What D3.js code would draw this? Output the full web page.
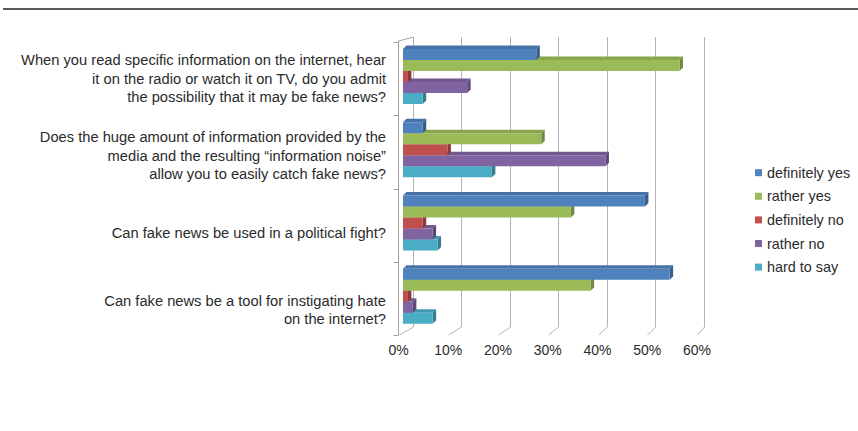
<!DOCTYPE html>
<html>
<head>
<meta charset="utf-8">
<script src="https://cdn.jsdelivr.net/npm/d3@7"></script>
<style>
  html, body { margin: 0; padding: 0; background: #fff; }
  svg { display: block; }
  text { font-family: "Liberation Sans", Arial, Helvetica, sans-serif; fill: #2b2b2b; }
</style>
</head>
<body>
<svg id="chart" width="858" height="431"></svg>
<script>
// Survey questions, each split into the lines shown beside the bars
const questionLines = [
  ["When you read specific information on the internet, hear",
   "it on the radio or watch it on TV, do you admit",
   "the possibility that it may be fake news?"],
  ["Does the huge amount of information provided by the",
   "media and the resulting \u201cinformation noise\u201d",
   "allow you to easily catch fake news?"],
  ["Can fake news be used in a political fight?"],
  ["Can fake news be a tool for instigating hate",
   "on the internet?"]
];
const categories = questionLines.map(l => l.join(" "));

// Answer shares (%) per question, in question order
const seriesNames = ["definitely yes", "rather yes", "definitely no", "rather no", "hard to say"];
const definitelyYes = [27, 4, 49, 54];
const ratherYes     = [56, 28, 34, 38];
const definitelyNo  = [1, 9, 4, 1];
const ratherNo      = [13, 41, 6, 2];
const hardToSay     = [4, 18, 7, 6];
const seriesValues = [definitelyYes, ratherYes, definitelyNo, ratherNo, hardToSay];
const seriesColors = ["#4F81BD", "#9BBB59", "#C0504D", "#8064A2", "#4BACC6"];

const tickValues = [0, 10, 20, 30, 40, 50, 60];
const tickLabels = ["0%", "10%", "20%", "30%", "40%", "50%", "60%"];

const svg = d3.select("#chart");

// rule across the top of the figure
svg.append("line")
  .attr("x1", 3).attr("x2", 858).attr("y1", 9).attr("y2", 9)
  .attr("stroke", "#5a5a5a").attr("stroke-width", 2);

// 3D box: front plane and back plane of the value axis
const floorFront = 335, floorBack = 327, wallTop = 37, leftTop = 41;
const xFront = d3.scaleLinear().domain([0, 60]).range([398.5, 697]);
const xBack  = d3.scaleLinear().domain([0, 60]).range([412.5, 704]);
// bars sit a little behind the front plane
const depthT = 0.32;
const xBar = d3.scaleLinear().domain([0, 60])
  .range([xFront(0) + (xBack(0) - xFront(0)) * depthT, xFront(60) + (xBack(60) - xFront(60)) * depthT]);

const yBand = d3.scaleBand().domain(categories).range([42, floorFront]).padding(0);
const ySeries = d3.scaleBand().domain(seriesNames).range([7, 62]).padding(0);

const grid = svg.append("g").attr("stroke", "#b4b4b4").attr("stroke-width", 1).attr("fill", "none");
tickValues.forEach(v => {
  const xb = Math.round(xBack(v)) + 0.5, xf = Math.round(xFront(v)) + 0.5;
  grid.append("path").attr("d", `M${xb},${wallTop}V${floorBack}L${xf},${floorFront}`);
});

// left wall / category axis
const axisX = Math.round(xFront(0)) - 0.5;
const axisG = svg.append("g").attr("stroke", "#a0a0a0").attr("fill", "none");
axisG.append("path").attr("d", `M${axisX},${floorFront}V${leftTop}L${Math.round(xBack(0)) + 0.5},${wallTop}`);
const edges = categories.map(c => yBand(c)).concat([yBand.range()[1]]);
edges.forEach(y => {
  axisG.append("line").attr("x1", axisX - 5).attr("x2", axisX)
    .attr("y1", Math.round(y) + 0.5).attr("y2", Math.round(y) + 0.5);
});

// value axis labels
svg.append("g").selectAll("text").data(tickValues).join("text")
  .attr("x", d => xFront(d)).attr("y", 355)
  .attr("text-anchor", "middle").attr("font-size", 14)
  .text((d, i) => tickLabels[i]);

// bars with a shallow 3D extrusion
const ddx = 3.5, ddy = -3.5;
const barsG = svg.append("g");
categories.forEach((cat, ci) => {
  // paint lowest series first so upper bars cover the top faces beneath them
  for (let si = seriesNames.length - 1; si >= 0; si--) {
    const v = seriesValues[si][ci];
    const col = d3.color(seriesColors[si]);
    const x0 = xBar(0), x1 = xBar(v);
    const y0 = yBand(cat) + ySeries(seriesNames[si]);
    const h = ySeries.bandwidth();
    const g = barsG.append("g");
    // top face
    g.append("path")
      .attr("d", `M${x0},${y0}L${x0 + ddx},${y0 + ddy}L${x1 + ddx},${y0 + ddy}L${x1},${y0}Z`)
      .attr("fill", col.darker(0.35));
    // end face
    g.append("path")
      .attr("d", `M${x1},${y0}L${x1 + ddx},${y0 + ddy}L${x1 + ddx},${y0 + h + ddy}L${x1},${y0 + h}Z`)
      .attr("fill", col.darker(0.9));
    // front face
    g.append("rect")
      .attr("x", x0).attr("y", y0).attr("width", Math.max(0, x1 - x0)).attr("height", h)
      .attr("fill", col.formatHex());
  }
});

// question labels
const yLabel = d3.scalePoint().domain(categories).range([78.5, 310]);
const lineH = 18.5;
const labelsG = svg.append("g").attr("font-size", 14.7).attr("text-anchor", "end");
categories.forEach((cat, ci) => {
  const lines = questionLines[ci];
  const first = yLabel(cat) - (lines.length - 1) * lineH / 2 + 5;
  lines.forEach((ln, li) => {
    labelsG.append("text").attr("x", 386).attr("y", first + li * lineH).text(ln);
  });
});

// legend
const legend = svg.append("g");
seriesNames.forEach((name, i) => {
  const cy = 172.7 + i * 23.6;
  legend.append("rect").attr("x", 755).attr("y", cy - 3.5).attr("width", 7).attr("height", 7)
    .attr("fill", seriesColors[i]);
  legend.append("text").attr("x", 767).attr("y", cy + 5).attr("font-size", 14.4).text(name);
});
</script>
</body>
</html>
